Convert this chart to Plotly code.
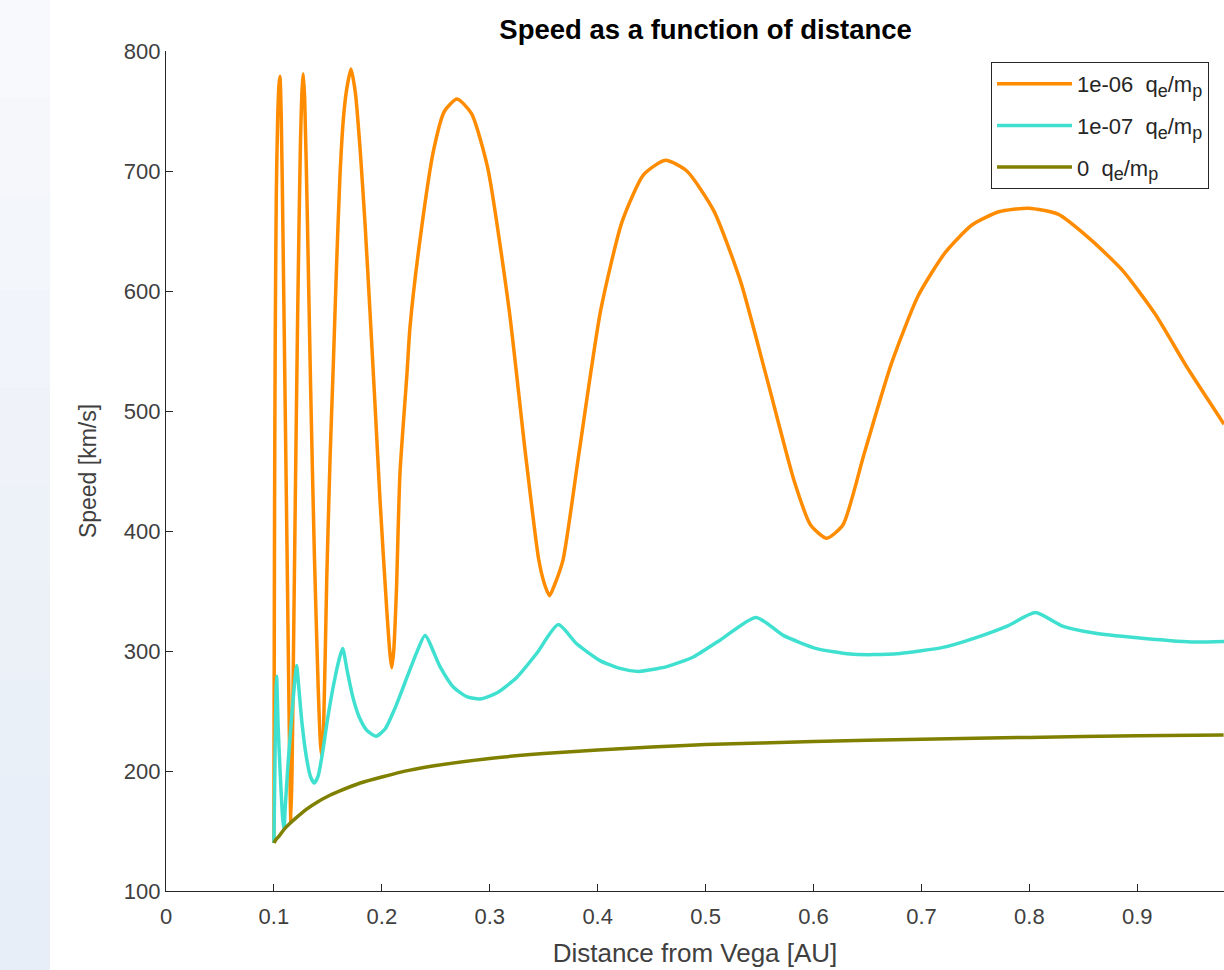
import plotly.graph_objects as go

# ---------------- data ----------------
SUB = "<sub><span style='font-size:18px'>{}</span></sub>"
series_names = ["1e-06  q" + SUB.format("e") + "/m" + SUB.format("p"),
                "1e-07  q" + SUB.format("e") + "/m" + SUB.format("p"),
                "0  q" + SUB.format("e") + "/m" + SUB.format("p")]
series_colors = ["#FF8C00", "#40E0D0", "#808000"]

dist_q1e6 = [0.1000, 0.1002, 0.1006, 0.1012, 0.1022, 0.1035, 0.1047, 0.1056, 0.1068, 0.1085,
             0.1105, 0.1125, 0.1140, 0.1152, 0.1157, 0.1168, 0.1180, 0.1200, 0.1220, 0.1245,
             0.1262, 0.1272, 0.1285, 0.1310, 0.1340, 0.1375, 0.1410, 0.1432, 0.1445, 0.1460,
             0.1489, 0.1520, 0.1550, 0.1580, 0.1612, 0.1645, 0.1674, 0.1714, 0.1755, 0.1798,
             0.1845, 0.1890, 0.1940, 0.1983, 0.2045, 0.2075, 0.2091, 0.2110, 0.2135, 0.2168,
             0.2232, 0.2261, 0.2357, 0.2481, 0.2581, 0.2697, 0.2830, 0.2980, 0.3180, 0.3330,
             0.3454, 0.3510, 0.3554, 0.3600, 0.3679, 0.3827, 0.4028, 0.4227, 0.4426, 0.4627,
             0.4826, 0.5075, 0.5324, 0.5574, 0.5823, 0.5973, 0.6122, 0.6272, 0.6471, 0.6720,
             0.6970, 0.7220, 0.7468, 0.7718, 0.7992, 0.8266, 0.8566, 0.8865, 0.9164, 0.9464,
             0.9804]
speed_q1e6 = [140, 260, 420, 560, 680, 745, 772, 779, 745, 640,
              500, 360, 250, 175, 157, 200, 290, 440, 580, 720,
              770, 781, 760, 660, 520, 380, 270, 222, 212, 235,
              358, 460, 538, 620, 696, 745, 768, 785, 765, 719,
              655, 583, 500, 426, 335, 298, 286, 300, 350, 448,
              530, 570, 645, 718, 750, 760, 748, 703, 584, 465,
              376, 355, 346, 355, 376, 465, 584, 658, 697, 709,
              700, 667, 608, 525, 441, 405, 394, 405, 465, 539,
              596, 632, 655, 666, 669, 664, 643, 617, 581, 536,
              489]

dist_q1e7 = [0.1000, 0.1005, 0.1012, 0.1020, 0.1025, 0.1040, 0.1060, 0.1080, 0.1093, 0.1105,
             0.1130, 0.1160, 0.1190, 0.1211, 0.1230, 0.1260, 0.1300, 0.1340, 0.1374, 0.1410,
             0.1450, 0.1500, 0.1560, 0.1610, 0.1637, 0.1680, 0.1730, 0.1790, 0.1860, 0.1946,
             0.2030, 0.2120, 0.2220, 0.2320, 0.2400, 0.2539, 0.2662, 0.2786, 0.2910, 0.3064,
             0.3250, 0.3435, 0.3635, 0.3805, 0.4022, 0.4207, 0.4377, 0.4640, 0.4886, 0.5133,
             0.5467, 0.5720, 0.6030, 0.6338, 0.6554, 0.6800, 0.7200, 0.7500, 0.7800, 0.8057,
             0.8300, 0.8600, 0.9000, 0.9500, 0.9804]
speed_q1e7 = [140, 175, 225, 268, 279, 235, 195, 162, 151, 170,
              205, 240, 272, 288, 270, 240, 212, 195, 190, 196,
              215, 245, 275, 295, 302, 283, 262, 245, 234, 229,
              235, 252, 275, 298, 313, 287, 270, 262, 260, 265,
              278, 298, 322, 306, 292, 285.5, 283, 287, 295, 309,
              328, 313, 302, 297.5, 297, 298, 303, 311, 321, 332,
              321, 315, 311, 307.5, 308]

dist_q0 = [0.100, 0.102, 0.105, 0.110, 0.115, 0.120, 0.130, 0.140, 0.150, 0.160,
           0.180, 0.200, 0.225, 0.250, 0.300, 0.350, 0.400, 0.450, 0.500, 0.600,
           0.700, 0.800, 0.900, 0.980]
speed_q0 = [140, 143, 146, 152, 156.5, 160.5, 168, 174, 179, 183,
            190, 195, 200.5, 204.5, 210.5, 214.5, 217.5, 220, 222, 224.5,
            226.5, 228, 229.3, 230]

x_ticks = [0, 0.1, 0.2, 0.3, 0.4, 0.5, 0.6, 0.7, 0.8, 0.9]
y_ticks = [100, 200, 300, 400, 500, 600, 700, 800]

# ---------------- figure ----------------
W, H = 1224, 970
ML, MR, MT, MB = 166, 0, 51, 79
plot_w = W - ML - MR
plot_h = H - MT - MB
px_per_unit = 1079.2  # axis spans 0..1, partly beyond the visible window
x_max = plot_w / px_per_unit

FONT = "Liberation Sans, Arial, Helvetica, sans-serif"
AX = "#262626"
TXT = "#404040"

fig = go.Figure()
for xs, ys, name, col in [(dist_q1e6, speed_q1e6, series_names[0], series_colors[0]),
                          (dist_q1e7, speed_q1e7, series_names[1], series_colors[1]),
                          (dist_q0, speed_q0, series_names[2], series_colors[2])]:
    fig.add_trace(go.Scatter(x=xs, y=ys, mode="lines", name=name, legendgroup=name,
                             line=dict(color=col, width=3.5, shape="spline", smoothing=0.6)))

# light gradient strip on the far left of the window
band_cols = ["#f8f9fc", "#f5f7fb", "#f3f6fb", "#f1f4fa", "#eff3f9",
             "#edf2f9", "#ecf1f8", "#eaf0f8", "#e9eff8", "#e8eef7"]
n = len(band_cols)
for i, c in enumerate(band_cols):
    py0 = H * i / n
    py1 = H * (i + 1) / n
    fig.add_shape(type="rect", xref="paper", yref="paper", layer="below",
                  x0=(0 - ML) / plot_w, x1=(50 - ML) / plot_w,
                  y0=(H - MB - py1) / plot_h, y1=(H - MB - py0) / plot_h,
                  line=dict(width=0), fillcolor=c)

fig.update_layout(
    width=W, height=H,
    margin=dict(l=ML, r=MR, t=MT, b=MB),
    paper_bgcolor="white", plot_bgcolor="white",
    font=dict(family=FONT, color=AX, size=22),
    title=dict(text="<b>Speed as a function of distance</b>",
               x=(705.6 - ML) / plot_w, xref="paper", xanchor="center",
               y=1 - 29 / H, yanchor="middle",
               font=dict(size=27.5, color="#000000", family=FONT)),
    showlegend=True,
    legend=dict(x=(991 - ML) / plot_w, y=(H - MB - 62) / plot_h,
                xanchor="left", yanchor="top",
                bgcolor="white", bordercolor="#262626", borderwidth=1,
                font=dict(size=22, color="#262626", family=FONT),
                itemwidth=75, tracegroupgap=10, traceorder="grouped"),
    xaxis=dict(range=[0, x_max], tickvals=x_ticks, ticktext=[str(v) for v in x_ticks],
               ticks="inside", ticklen=7, tickwidth=1.2, tickcolor=AX,
               showline=True, linecolor=AX, linewidth=1.3, mirror=False,
               showgrid=False, zeroline=False, ticklabelstandoff=5,
               tickfont=dict(size=22, color=TXT),
               title=dict(text="Distance from Vega [AU]", standoff=16,
                          font=dict(size=26, color=TXT))),
    yaxis=dict(range=[100, 800], tickvals=y_ticks,
               ticks="inside", ticklen=7, tickwidth=1.2, tickcolor=AX,
               showline=True, linecolor=AX, linewidth=1.3, mirror=False,
               showgrid=False, zeroline=False,
               tickfont=dict(size=22, color=TXT),
               title=dict(text="Speed [km/s]", standoff=20,
                          font=dict(size=23, color=TXT))),
)

fig.write_html("out.html", config={"displayModeBar": False},
               post_script="document.body.style.margin='0';document.body.style.overflow='hidden';")
